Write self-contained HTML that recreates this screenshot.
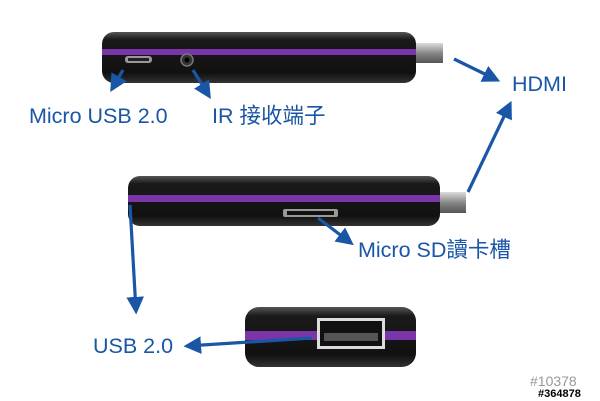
<!DOCTYPE html>
<html><head><meta charset="utf-8"><style>
html,body{margin:0;padding:0;background:#fff;width:600px;height:401px;overflow:hidden}
svg{display:block}
text{font-family:"Liberation Sans","Noto Sans CJK TC",sans-serif;fill:#1a56a6}
</style></head><body>
<svg width="600" height="401" viewBox="0 0 600 401" xmlns="http://www.w3.org/2000/svg">
<defs>
<linearGradient id="body" x1="0" y1="0" x2="0" y2="1">
<stop offset="0" stop-color="#555"/><stop offset="0.15" stop-color="#1a1a1a"/><stop offset="0.8" stop-color="#111"/><stop offset="1" stop-color="#333"/>
</linearGradient>
<linearGradient id="metal" x1="0" y1="0" x2="0" y2="1">
<stop offset="0" stop-color="#ddd"/><stop offset="0.5" stop-color="#888"/><stop offset="1" stop-color="#555"/>
</linearGradient>
<marker id="ah" viewBox="0 0 10 10" refX="8" refY="5" markerWidth="5.5" markerHeight="5.5" orient="auto">
<path d="M0,0 L10,5 L0,10 z" fill="#1a56a6"/>
</marker>
</defs>
<rect x="412" y="43" width="31" height="20" fill="url(#metal)"/>
<rect x="102" y="32" width="314" height="51" rx="12" fill="url(#body)"/>
<rect x="102" y="49" width="314" height="6" fill="#7a36a8"/>
<rect x="125" y="56" width="27" height="7" rx="3" fill="#999"/>
<rect x="128" y="58" width="21" height="3" fill="#222"/>
<circle cx="187" cy="60" r="6" fill="#333" stroke="#777" stroke-width="1.5"/>
<circle cx="187" cy="60" r="2.5" fill="#000"/>
<rect x="436" y="192" width="30" height="21" fill="url(#metal)"/>
<rect x="128" y="176" width="312" height="50" rx="12" fill="url(#body)"/>
<rect x="128" y="195" width="312" height="7" fill="#7a36a8"/>
<rect x="283" y="209" width="55" height="8" rx="2" fill="#999"/>
<rect x="287" y="211" width="47" height="4" fill="#111"/>
<rect x="245" y="307" width="171" height="60" rx="14" fill="url(#body)"/>
<rect x="245" y="331" width="171" height="9" fill="#7a36a8"/>
<rect x="317" y="318" width="68" height="31" fill="#ddd"/>
<rect x="320" y="321" width="62" height="25" fill="#111"/>
<rect x="324" y="333" width="54" height="8" fill="#555"/>
<g stroke="#1a56a6" stroke-width="3.2" fill="none" marker-end="url(#ah)">
<line x1="123" y1="70" x2="112" y2="89"/>
<line x1="193" y1="70" x2="209" y2="96"/>
<line x1="454" y1="59" x2="497" y2="80"/>
<line x1="468" y1="192" x2="510" y2="104"/>
<line x1="318" y1="218" x2="351" y2="243"/>
<line x1="130" y1="205" x2="136" y2="311"/>
<line x1="312" y1="338" x2="187" y2="346"/>
</g>
<text x="29" y="123" font-size="21.5">Micro USB 2.0</text>
<text x="212" y="123" font-size="21.5">IR 接收端子</text>
<text x="512" y="91" font-size="21.5">HDMI</text>
<text x="358" y="257" font-size="21.5">Micro SD讀卡槽</text>
<text x="93" y="353" font-size="21.5">USB 2.0</text>
<text x="530" y="386" font-size="14" style="fill:#999">#10378</text>
<text x="538" y="397" font-size="11" font-weight="bold" style="fill:#000">#364878</text>
</svg>
</body></html>
